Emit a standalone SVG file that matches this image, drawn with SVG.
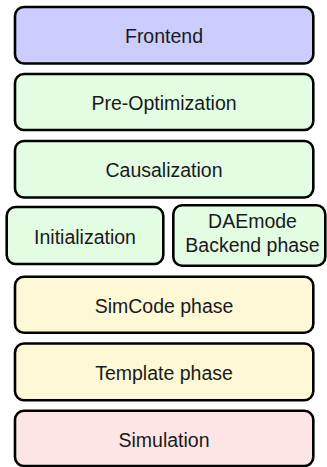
<svg xmlns="http://www.w3.org/2000/svg" width="327" height="467" viewBox="0 0 327 467">
<style>
.box{stroke:#000;stroke-width:2.6}
.blue{fill:#ccccff}
.green{fill:#e3fde3}
.yellow{fill:#fdf8d5}
.red{fill:#fde5e5}
text{font-family:"Liberation Sans",Arial,sans-serif;font-size:19.5px;fill:#1a1a1a;text-anchor:middle}
</style>
<rect width="327" height="467" fill="#fff"/>
<g id="frontend">
<rect class="box blue" x="15" y="7" width="298.3" height="56.5" rx="9"/>
<text x="164" y="43.3">Frontend</text>
</g>
<g id="preopt">
<rect class="box green" x="15" y="74" width="298.3" height="56" rx="9"/>
<text x="164" y="110">Pre-Optimization</text>
</g>
<g id="causalization">
<rect class="box green" x="15" y="141" width="298.3" height="56.5" rx="9"/>
<text x="164" y="177.3">Causalization</text>
</g>
<g id="initialization">
<rect class="box green" x="6.7" y="207" width="156.6" height="57" rx="9"/>
<text x="85" y="243.5">Initialization</text>
</g>
<g id="daemode">
<rect class="box green" x="173.3" y="205.3" width="152" height="60.5" rx="9"/>
<text x="252.5" y="227.7">DAEmode</text>
<text x="252.5" y="251.7">Backend phase</text>
</g>
<g id="simcode">
<rect class="box yellow" x="15" y="276.7" width="298.3" height="56" rx="9"/>
<text x="164" y="313">SimCode phase</text>
</g>
<g id="template">
<rect class="box yellow" x="15" y="343.5" width="298.3" height="56.8" rx="9"/>
<text x="164" y="380.3">Template phase</text>
</g>
<g id="simulation">
<rect class="box red" x="15" y="410.7" width="298.3" height="55.3" rx="9"/>
<text x="164" y="446.7">Simulation</text>
</g>
<g id="connectors"></g>
</svg>
